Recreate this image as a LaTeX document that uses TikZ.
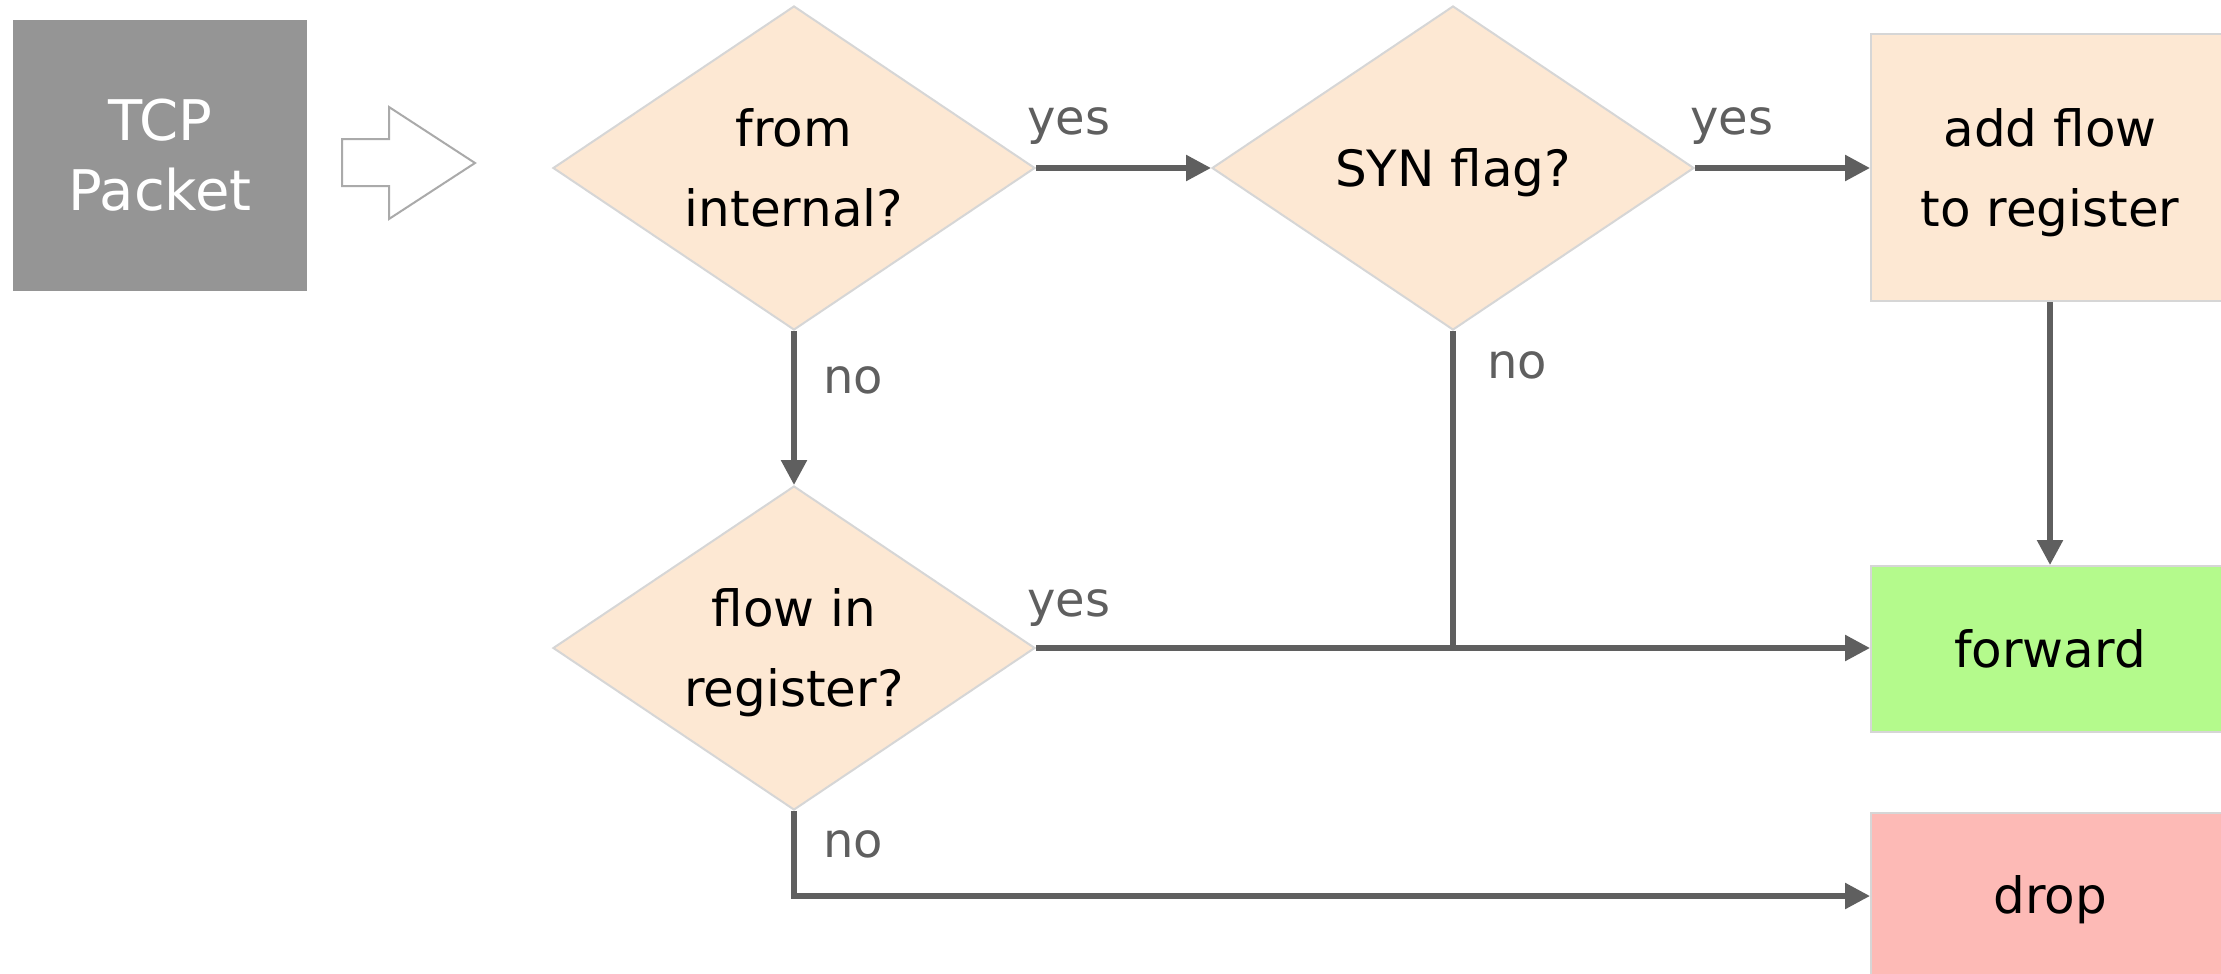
\documentclass[tikz,border=0pt]{standalone}
\usepackage{fontspec}
\setmainfont{DejaVu Sans}
\usetikzlibrary{shapes.geometric,arrows.meta,calc}
\definecolor{peach}{HTML}{FDE8D3}
\definecolor{bord}{HTML}{D6D6D6}
\definecolor{connc}{HTML}{5F5F5F}
\definecolor{fwdgreen}{HTML}{B4FA8C}
\definecolor{droppink}{HTML}{FDBAB6}
\definecolor{tcpgrey}{HTML}{959595}
\definecolor{hollowgrey}{HTML}{AAAAAA}
\newcommand\fcBody{\fontsize{50}{80}\selectfont}
\newcommand\fcLbl{\fontsize{48}{60}\selectfont}
\newcommand\fcTcp{\fontsize{56}{70}\selectfont}
\begin{document}
\begin{tikzpicture}[x=1pt,y=-1pt,
  dec/.style={diamond, aspect=1.49, draw=bord, line width=2pt, fill=peach,
    minimum width=482pt, minimum height=324pt, inner sep=0pt,
    align=center, font=\fcBody, text=black},
  proc/.style={rectangle, draw=bord, line width=2pt, fill=peach,
    minimum width=358pt, minimum height=267pt, inner sep=0pt,
    align=center, font=\fcBody, text=black},
  tcpbox/.style={rectangle, fill=tcpgrey, minimum width=294pt,
    minimum height=271pt, inner sep=0pt, align=center, font=\fcTcp, text=white},
  hollow/.style={draw=hollowgrey, line width=2pt, fill=white, line join=miter},
  arr/.style={draw=connc, line width=5.5pt, -{Triangle[length=25pt,width=25pt]}},
  ln/.style={draw=connc, line width=5.5pt},
  lbl/.style={font=\fcLbl, text=connc, inner sep=0pt, anchor=base west}]
\useasboundingbox (0,0) rectangle (2221,974);
\fill[white] (0,0) rectangle (2221,974);
\clip (0,0) rectangle (2221,974);

\node[tcpbox] (tcp) at (160,155.5) {TCP\\Packet};
\draw[hollow] (342,139) -- (389,139) -- (389,107) -- (475,163) -- (389,219) -- (389,186) -- (342,186) -- cycle;

\node[dec] (d1) at (794,168) {from\\internal?};
\node[dec] (d2) at (1453,168) {SYN fla\smash{g}?};
\node[dec] (d3) at (794,648) {flow in\\re\smash{g}ister?};
\node[proc] (add) at (2050,167.5) {add flow\\to re\smash{g}ister};
\node[proc, fill=fwdgreen, minimum height=166pt] (fwd) at (2050,649) {forward};
\node[proc, fill=droppink, minimum height=174pt] (drop) at (2050,900) {drop};

\draw[arr] (d1.east) -- (d2.west);
\draw[arr] (d2.east) -- (d2.east -| add.west);
\draw[arr] (d1.south) -- (d3.north);
\draw[arr] (add.south) -- (fwd.north);
\draw[ln] (d2.south) -- (d2.south |- d3.east);
\draw[arr] (d3.east) -- (d3.east -| fwd.west);
\draw[arr] (d3.south) |- ([yshift=4pt]drop.west);

\node[lbl] (y1) at (1027,134) {yes};
\node[lbl] (y2) at (1690,134) {yes};
\node[lbl] (y3) at (1027,616) {yes};
\node[lbl] (n1) at (823,393) {no};
\node[lbl] (n2) at (1487,378) {no};
\node[lbl] (n3) at (823,857) {no};
\end{tikzpicture}
\end{document}
